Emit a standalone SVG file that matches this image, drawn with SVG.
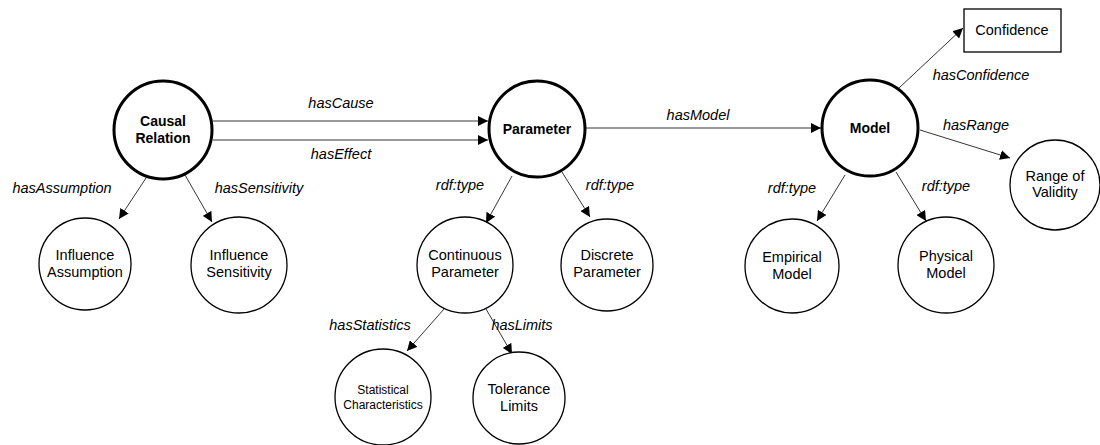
<svg xmlns="http://www.w3.org/2000/svg" width="1100" height="445" viewBox="0 0 1100 445">
<style>
.n{fill:#fff;stroke:#000;stroke-width:1.3}
.b{fill:#fff;stroke:#000;stroke-width:3}
.t{font-family:"Liberation Sans",Arial,sans-serif;font-size:14.5px;text-anchor:middle;fill:#000}
.tb{font-family:"Liberation Sans",Arial,sans-serif;font-size:14px;font-weight:bold;text-anchor:middle;fill:#000}
.ts{font-family:"Liberation Sans",Arial,sans-serif;font-size:12px;text-anchor:middle;fill:#000}
.l{font-family:"Liberation Sans",Arial,sans-serif;font-size:14.5px;font-style:italic;text-anchor:middle;fill:#000}
.e{stroke:#000;stroke-width:0.8;fill:none;marker-end:url(#a)}
</style>
<defs>
<marker id="a" viewBox="0 0 10 10" refX="10" refY="5" markerWidth="10" markerHeight="10" markerUnits="userSpaceOnUse" orient="auto">
<path d="M0,0 L10,5 L0,10 z" fill="#000"/>
</marker>
</defs>
<rect width="1100" height="445" fill="#fff"/>
<g id="connectors">
<line class="e" x1="213" y1="121" x2="488" y2="121"/>
<line class="e" x1="213" y1="140" x2="488" y2="140"/>
<line class="e" x1="586" y1="128" x2="821" y2="128"/>
<line class="e" x1="146" y1="178" x2="119" y2="219"/>
<line class="e" x1="185" y1="175" x2="212" y2="222"/>
<line class="e" x1="512" y1="176" x2="486" y2="223"/>
<line class="e" x1="562" y1="172" x2="590" y2="217"/>
<line class="e" x1="845" y1="175" x2="817" y2="221"/>
<line class="e" x1="896" y1="172" x2="926" y2="221"/>
<line class="e" x1="899" y1="88" x2="963" y2="28"/>
<line class="e" x1="920" y1="130" x2="1010" y2="158"/>
<line class="e" x1="444" y1="309" x2="407" y2="351"/>
<line class="e" x1="486" y1="309" x2="512" y2="354"/>
<text class="l" x="341" y="108">hasCause</text>
<text class="l" x="341" y="159">hasEffect</text>
<text class="l" x="698" y="120">hasModel</text>
<text class="l" x="62" y="193">hasAssumption</text>
<text class="l" x="259" y="193">hasSensitivity</text>
<text class="l" x="460" y="190">rdf:type</text>
<text class="l" x="610" y="190">rdf:type</text>
<text class="l" x="792" y="193">rdf:type</text>
<text class="l" x="946" y="191">rdf:type</text>
<text class="l" x="981" y="80">hasConfidence</text>
<text class="l" x="976" y="130">hasRange</text>
<text class="l" x="370" y="330">hasStatistics</text>
<text class="l" x="522" y="330">hasLimits</text>
</g>
<g id="causal-relation"><circle class="b" cx="163" cy="130" r="49"/><text class="tb" x="163" y="126">Causal</text><text class="tb" x="163" y="143">Relation</text></g>
<g id="parameter"><circle class="b" cx="537" cy="129" r="48"/><text class="tb" x="537" y="134">Parameter</text></g>
<g id="model"><circle class="b" cx="870" cy="128" r="48"/><text class="tb" x="870" y="133">Model</text></g>
<g id="confidence"><rect class="n" x="964" y="9" width="97" height="43"/><text class="t" x="1012" y="35">Confidence</text></g>
<g id="range-of-validity"><circle class="n" cx="1055" cy="185" r="45"/><text class="t" x="1055" y="181">Range of</text><text class="t" x="1055" y="197">Validity</text></g>
<g id="empirical-model"><circle class="n" cx="792" cy="266" r="47"/><text class="t" x="792" y="262">Empirical</text><text class="t" x="792" y="279">Model</text></g>
<g id="physical-model"><circle class="n" cx="946" cy="265" r="48"/><text class="t" x="946" y="261">Physical</text><text class="t" x="946" y="278">Model</text></g>
<g id="influence-assumption"><circle class="n" cx="85" cy="264" r="46"/><text class="t" x="85" y="260">Influence</text><text class="t" x="85" y="277">Assumption</text></g>
<g id="influence-sensitivity"><circle class="n" cx="239" cy="265" r="48"/><text class="t" x="239" y="260">Influence</text><text class="t" x="239" y="277">Sensitivity</text></g>
<g id="continuous-parameter"><circle class="n" cx="465" cy="265" r="48"/><text class="t" x="465" y="260">Continuous</text><text class="t" x="465" y="277">Parameter</text></g>
<g id="discrete-parameter"><circle class="n" cx="607" cy="265" r="46"/><text class="t" x="607" y="260">Discrete</text><text class="t" x="607" y="277">Parameter</text></g>
<g id="statistical-characteristics"><circle class="n" cx="383" cy="397" r="48"/><text class="ts" x="383" y="394">Statistical</text><text class="ts" x="383" y="409">Characteristics</text></g>
<g id="tolerance-limits"><circle class="n" cx="519" cy="398" r="46"/><text class="t" x="519" y="394">Tolerance</text><text class="t" x="519" y="411">Limits</text></g>
</svg>
